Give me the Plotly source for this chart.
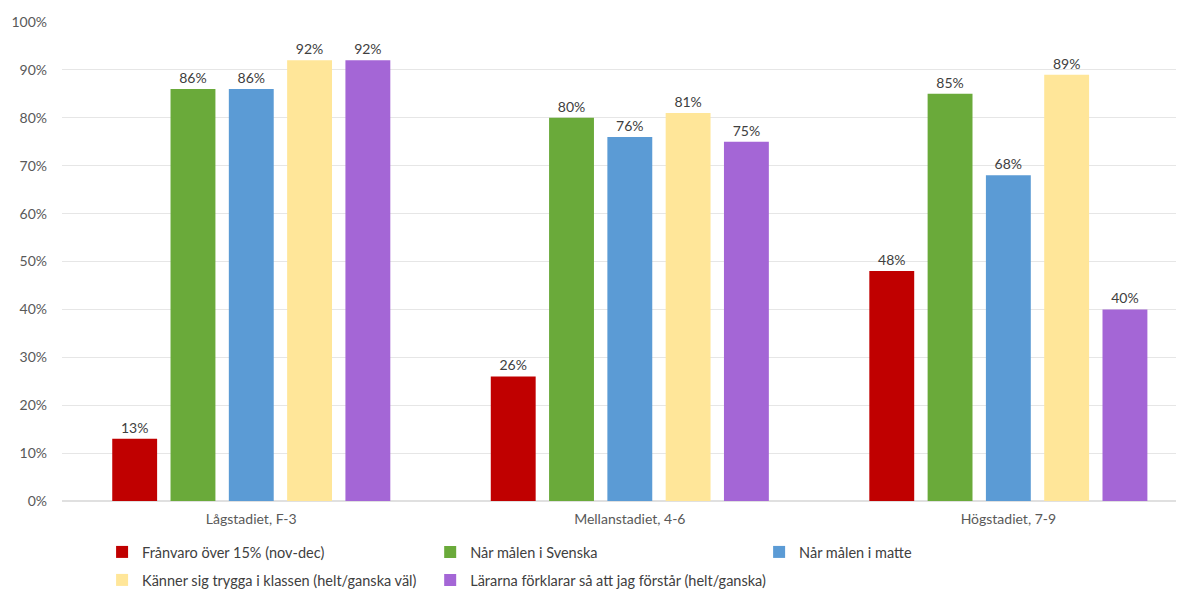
import plotly.graph_objects as go

categories = ["Lågstadiet, F-3", "Mellanstadiet, 4-6", "Högstadiet, 7-9"]
series_names = [
    "Frånvaro över 15% (nov-dec)",
    "Når målen i Svenska",
    "Når målen i matte",
    "Känner sig trygga i klassen (helt/ganska väl)",
    "Lärarna förklarar så att jag förstår (helt/ganska)",
]
franvaro = [13, 26, 48]
svenska = [86, 80, 85]
matte = [86, 76, 68]
trygga = [92, 81, 89]
forklarar = [92, 75, 40]
colors = ["#C00000", "#6AAA3A", "#5B9BD5", "#FFE699", "#A466D6"]

values = [franvaro, svenska, matte, trygga, forklarar]
font = "Lato, 'Noto Sans', sans-serif"
legend_ids = ["legend", "legend2", "legend3", "legend4", "legend5"]
# legend anchor positions (container fraction): column x, row y
legend_x = [0.0800, 0.3590, 0.6387, 0.0800, 0.3590]
legend_y = [0.0653, 0.0653, 0.0653, 0.0172, 0.0172]

fig = go.Figure()
for name, vals, col, lg in zip(series_names, values, colors, legend_ids):
    fig.add_trace(go.Bar(
        x=categories, y=vals, name=name, marker_color=col,
        marker_line_width=0, legend=lg,
        text=[f"{v}%" for v in vals], textposition="outside",
        textfont=dict(size=14, color="#404040", family=font),
        cliponaxis=False,
    ))

legends = {}
for lg, lx, ly in zip(legend_ids, legend_x, legend_y):
    legends[lg] = dict(
        orientation="h", xref="container", yref="container",
        x=lx, y=ly, xanchor="left", yanchor="middle",
        font=dict(size=14.5, color="#404040", family=font),
        bgcolor="rgba(0,0,0,0)",
    )

fig.update_layout(
    width=1176, height=582,
    margin=dict(l=54, r=0, t=14, b=89),
    paper_bgcolor="white", plot_bgcolor="white",
    barmode="group", bargap=0.23, bargroupgap=0.23,
    font=dict(family=font, size=14, color="#595959"),
    showlegend=True,
    xaxis=dict(range=[-0.5, 2.464], showgrid=False, showline=False,
               ticks="", tickfont=dict(size=14, color="#595959"),
               ticklabelstandoff=8),
    yaxis=dict(range=[0, 100], dtick=10, ticksuffix="%",
               showgrid=True, gridcolor="#E6E6E6", gridwidth=1,
               zeroline=True, zerolinecolor="#E0E0E0",
               tickfont=dict(size=14, color="#595959"),
               ticklabelstandoff=14),
    **legends,
)

fig.write_html("out.html")
